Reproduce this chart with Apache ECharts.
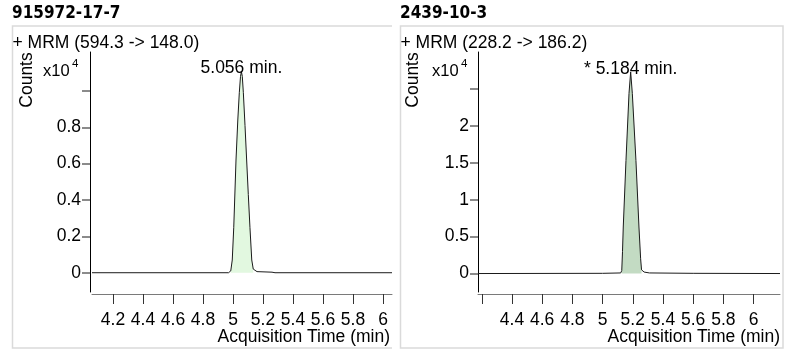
<!DOCTYPE html>
<html><head><meta charset="utf-8">
<script src="https://cdn.jsdelivr.net/npm/echarts@6/dist/echarts.min.js"></script>
<style>html,body{margin:0;padding:0;background:#fff}#c{width:790px;height:359px}</style>
</head><body><div id="c"></div>
<script>
// ---- data (counts in units of x10^4, time in min) ----
const titles = ['915972-17-7', '2439-10-3'];
const transitions = ['+ MRM (594.3 -> 148.0)', '+ MRM (228.2 -> 186.2)'];
const peakLabels = ['5.056 min.', '* 5.184 min.'];
const yAxisTitle = 'Counts';
const xAxisTitle = 'Acquisition Time (min)';
const scaleText = 'x10';
const scaleExp = '4';

const leftTime   = [4.06, 4.97, 4.985, 4.995, 5.005, 5.02, 5.032, 5.042, 5.05, 5.056, 5.062, 5.069, 5.08, 5.091, 5.102, 5.113, 5.125, 5.135, 5.16, 5.26, 5.28, 6.06];
const leftCounts = [0,    0,    0.01,  0.07,  0.25,  0.62, 0.84,  0.99,  1.08, 1.106, 1.08,  0.99,  0.81, 0.62,  0.43,  0.25,  0.07,  0.02,  0.006, 0.003, 0,   0];
const leftFillWindow = [4.985, 5.135];

const rightTime   = [4.175, 5.0,   5.12,  5.127, 5.132, 5.137, 5.155, 5.175, 5.186, 5.197, 5.221, 5.241, 5.252, 5.258, 5.275, 5.31,  5.6,   6.175];
const rightCounts = [0,     0.003, 0.008, 0.04,  0.3,   0.63,  1.53,  2.44,  2.73,  2.44,  1.53,  0.63,  0.2,   0.05,  0.02,  0.008, 0.003, 0];
const rightFillWindow = [5.127, 5.26];

const leftXTicks  = [4.2, 4.4, 4.6, 4.8, 5.0, 5.2, 5.4, 5.6, 5.8, 6.0];
const leftXLabels = [4.2, 4.4, 4.6, 4.8, 5.0, 5.2, 5.4, 5.6, 5.8, 6.0];
const rightXTicks  = [4.2, 4.4, 4.6, 4.8, 5.0, 5.2, 5.4, 5.6, 5.8, 6.0];
const rightXLabels = [4.4, 4.6, 4.8, 5.0, 5.2, 5.4, 5.6, 5.8, 6.0];
const leftYTicks  = [0, 0.2, 0.4, 0.6, 0.8, 1.0];
const leftYLabels = [0, 0.2, 0.4, 0.6, 0.8];
const rightYTicks  = [0, 0.5, 1, 1.5, 2, 2.5];
const rightYLabels = [0, 0.5, 1, 1.5, 2];

const leftXRange = [4.06, 6.06];
const rightXRange = [4.175, 6.175];
const leftYRange = [-0.106, 1.214];
const rightYRange = [-0.25, 3.0];

// ---- build ----
const FONT = "'Liberation Sans', Arial, sans-serif";
const FS = 17.5;
const fmt = v => String(Math.round(v * 10) / 10);
const pairs = (t, c) => t.map((x, i) => [x, c[i]]);
const inWin = (arr, w) => arr.filter(p => p[0] >= w[0] - 1e-9 && p[0] <= w[1] + 1e-9);
const peakOf = arr => arr.reduce((a, b) => (b[1] > a[1] ? b : a));

const leftData = pairs(leftTime, leftCounts);
const rightData = pairs(rightTime, rightCounts);

function xAxisCfg(idx, range, ticks, labels) {
  return {
    type: 'value', gridIndex: idx, min: range[0], max: range[1], position: 'bottom', offset: 2,
    axisLine: { show: true, onZero: false, lineStyle: { color: '#7a7a7a', width: 1 } },
    axisTick: { show: true, length: 10, customValues: ticks, lineStyle: { color: '#333', width: 1 } },
    axisLabel: { customValues: labels, formatter: fmt, fontSize: FS, color: '#000', fontFamily: FONT, margin: 17 },
    splitLine: { show: false }
  };
}
function yAxisCfg(idx, range, ticks, labels, offset) {
  return {
    type: 'value', gridIndex: idx, min: range[0], max: range[1], offset: offset,
    axisLine: { show: true, onZero: false, lineStyle: { color: '#000', width: 1 } },
    axisTick: { show: true, length: 8, customValues: ticks, lineStyle: { color: '#666', width: 1.5 } },
    axisLabel: { customValues: labels, formatter: fmt, fontSize: FS, color: '#000', fontFamily: FONT, margin: 9 },
    splitLine: { show: false }
  };
}
function traceSeries(idx, data) {
  return { type: 'line', xAxisIndex: idx, yAxisIndex: idx, data: data, showSymbol: false, smooth: false,
    lineStyle: { color: '#1a1a1a', width: 1 }, z: 4, animation: false, silent: true };
}
function fillSeries(idx, data, color) {
  return { type: 'line', xAxisIndex: idx, yAxisIndex: idx, data: data, showSymbol: false,
    lineStyle: { width: 0 }, areaStyle: { color: color, opacity: 1 }, z: 2, animation: false, silent: true };
}
function labelSeries(idx, point, text) {
  return { type: 'scatter', xAxisIndex: idx, yAxisIndex: idx, data: [point], symbolSize: 1,
    itemStyle: { color: 'rgba(0,0,0,0)', opacity: 1 }, z: 5, animation: false, silent: true,
    label: { show: true, position: 'inside', offset: [0, -3], formatter: () => text, opacity: 1,
      fontSize: FS, color: '#000', fontFamily: FONT } };
}

const txt = (x, y, text, extra) => ({ type: 'text', x: x, y: y, silent: true,
  style: Object.assign({ text: text, font: FS + 'px ' + FONT, fill: '#000', textVerticalAlign: 'middle' }, extra || {}) });

const option = {
  animation: false,
  grid: [
    { left: 92, top: 52, width: 300, height: 240 },
    { left: 478, top: 52, width: 302, height: 240 }
  ],
  xAxis: [xAxisCfg(0, leftXRange, leftXTicks, leftXLabels), xAxisCfg(1, rightXRange, rightXTicks, rightXLabels)],
  yAxis: [yAxisCfg(0, leftYRange, leftYTicks, leftYLabels, 2), yAxisCfg(1, rightYRange, rightYTicks, rightYLabels, 0)],
  series: [
    fillSeries(0, inWin(leftData, leftFillWindow), '#e2f8e0'),
    traceSeries(0, leftData),
    labelSeries(0, peakOf(leftData), peakLabels[0]),
    fillSeries(1, inWin(rightData, rightFillWindow), '#c3dbc3'),
    traceSeries(1, rightData),
    labelSeries(1, peakOf(rightData), peakLabels[1])
  ],
  graphic: [
    { type: 'polyline', silent: true, shape: { points: [[392, 26], [12.5, 26], [12.5, 348], [392, 348]] },
      style: { stroke: '#dadada', lineWidth: 1.5, fill: null } },
    { type: 'rect', silent: true, shape: { x: 400.5, y: 26, width: 382.5, height: 322 },
      style: { stroke: '#dadada', lineWidth: 1.5, fill: null } },
    txt(12, 14, titles[0], { font: "bold 17px 'DejaVu Sans Condensed', 'DejaVu Sans', sans-serif" }),
    txt(400, 14, titles[1], { font: "bold 17px 'DejaVu Sans Condensed', 'DejaVu Sans', sans-serif" }),
    txt(12.5, 43, transitions[0]),
    txt(400.5, 43, transitions[1]),
    { type: 'text', x: 27, y: 80, rotation: Math.PI / 2, silent: true,
      style: { text: yAxisTitle, font: FS + 'px ' + FONT, fill: '#000', textAlign: 'center', textVerticalAlign: 'middle' } },
    { type: 'text', x: 413.5, y: 80, rotation: Math.PI / 2, silent: true,
      style: { text: yAxisTitle, font: FS + 'px ' + FONT, fill: '#000', textAlign: 'center', textVerticalAlign: 'middle' } },
    txt(43, 71, scaleText, { font: '16.5px ' + FONT }),
    txt(72, 64, scaleExp, { font: '11.5px ' + FONT }),
    txt(432, 71, scaleText, { font: '16.5px ' + FONT }),
    txt(461, 64, scaleExp, { font: '11.5px ' + FONT }),
    txt(390, 337, xAxisTitle, { textAlign: 'right' }),
    txt(780, 337, xAxisTitle, { textAlign: 'right' })
  ]
};

const chart = echarts.init(document.getElementById('c'), null, { renderer: 'canvas' });
chart.setOption(option);
</script>
</body></html>
